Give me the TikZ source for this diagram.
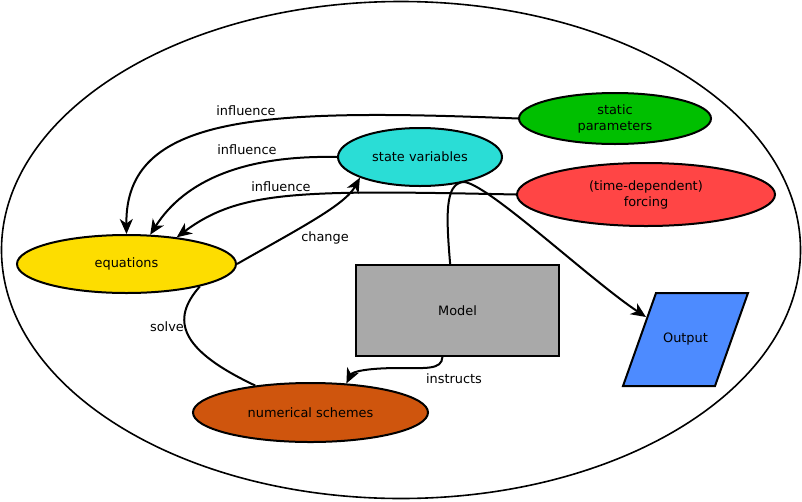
\documentclass[tikz,border=0pt]{standalone}
\usepackage{fontspec}
\setmainfont{DejaVu Sans}
\definecolor{mdgreen}{RGB}{0,191,0}
\definecolor{mdcyan}{RGB}{42,221,214}
\definecolor{mdred}{RGB}{255,69,69}
\definecolor{mdyellow}{RGB}{253,221,0}
\definecolor{mdgray}{RGB}{169,169,169}
\definecolor{mdorange}{RGB}{207,85,13}
\definecolor{mdblue}{RGB}{77,139,255}
\usetikzlibrary{arrows.meta,positioning,shapes.geometric}

\begin{document}
\begin{tikzpicture}[x=1pt,y=-1pt,>={Stealth[length=15pt,width=13pt,inset=4.5pt]},
  font=\fontsize{12.9}{16}\selectfont,
  blob/.style={draw,ellipse,line width=2pt,inner sep=0pt,align=center},
  link/.style={line width=2pt},
  lbl/.style={inner sep=0pt}]
  \useasboundingbox (0,0) rectangle (802,501);
  \draw[line width=1.6pt] (401,250) ellipse [x radius=399.5,y radius=248.5];
  % parts of the model
  \node[blob,fill=mdgreen,minimum width=192pt,minimum height=51pt]
        (static) at (615,118.5) {static\\parameters};
  \node[blob,fill=mdcyan,minimum width=164pt,minimum height=58pt]
        (state) at (420,157) {state variables};
  \node[blob,fill=mdred,minimum width=258pt,minimum height=63pt]
        (forcing) at (646,194.5) {(time-dependent)\\forcing};
  \node[blob,fill=mdyellow,minimum width=219pt,minimum height=58pt]
        (eq) at (126.5,264) {equations};
  \node[blob,fill=mdorange,minimum width=235pt,minimum height=59pt]
        (num) at (310.5,412.5) {numerical schemes};
  \node[draw,fill=mdgray,line width=2pt,minimum width=203pt,minimum height=91pt]
        (model) at (457.5,310.5) {Model};
  % output parallelogram
  \filldraw[fill=mdblue,line width=2pt,line join=miter]
        (656,293) -- (748,293) -- (715,386) -- (623,386) -- cycle;
  \node (output) at (685.5,339.5) {Output};
  \coordinate (outin) at (646,317);
  % connections
  \draw[link,->] (static.west) .. controls (260,108) and (125,115) .. (eq.north);
  \draw[link,->] (state.west) .. controls (245,155) and (185,180) .. (eq.51);
  \draw[link,->] (forcing.west) .. controls (300,190) and (240,190) .. (eq.28);
  \draw[link,->] (eq.east) .. controls (300,228) and (345,205) .. (state.199);
  \draw[link] (eq.-17) .. controls (170,320) and (180,350) .. (num.154);
  \draw[link,->] (model.99) .. controls (446,215) and (445,184) .. (463,182)
        .. controls (485,181) and (590,280) .. (outin);
  \draw[link,->] (model.-108) .. controls (442,370) and (425,368) .. (400,368)
        .. controls (365,368) and (352,372) .. (num.39);
  % labels
  \node[lbl] (infl1) at (246,111) {influence};
  \node[lbl] (infl2) at (247,150) {influence};
  \node[lbl] (infl3) at (281,187) {influence};
  \node[lbl] (chg) at (325,238) {change};
  \node[lbl] (slv) at (167,327) {solve};
  \node[lbl] (instr) at (454,379) {instructs};
\end{tikzpicture}
\end{document}
